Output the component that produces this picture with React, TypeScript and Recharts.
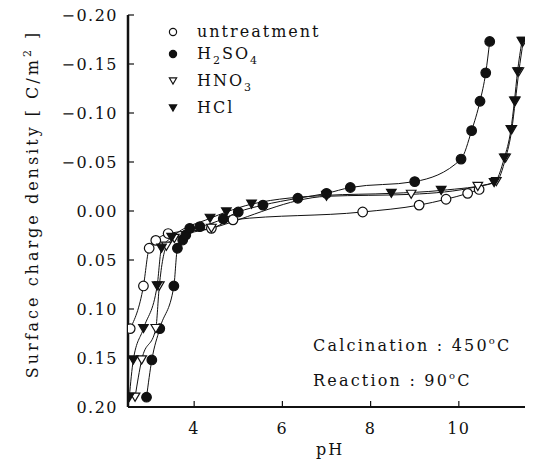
import React from "react";
import { LineChart, Line, XAxis, YAxis, Customized } from "recharts";

// pH vs surface charge density (C/m2)
const untreatment = [
    { x: 2.55, y: 0.12 },
    { x: 2.85, y: 0.0765 },
    { x: 2.98, y: 0.038 },
    { x: 3.13, y: 0.03 },
    { x: 3.41, y: 0.023 },
    { x: 4.39, y: 0.0177 },
    { x: 4.88, y: 0.009 },
    { x: 7.82, y: 0.001 },
    { x: 9.1, y: -0.006 },
    { x: 9.71, y: -0.012 },
    { x: 10.2, y: -0.018 },
    { x: 10.46, y: -0.022 },
];

const h2so4 = [
    { x: 2.92, y: 0.19 },
    { x: 3.04, y: 0.152 },
    { x: 3.22, y: 0.12 },
    { x: 3.54, y: 0.0765 },
    { x: 3.62, y: 0.038 },
    { x: 3.74, y: 0.0296 },
    { x: 3.81, y: 0.0245 },
    { x: 3.9, y: 0.0177 },
    { x: 4.13, y: 0.016 },
    { x: 4.66, y: 0.008 },
    { x: 5.0, y: 0.001 },
    { x: 5.56, y: -0.006 },
    { x: 6.35, y: -0.013 },
    { x: 7.0, y: -0.018 },
    { x: 7.54, y: -0.024 },
    { x: 9.0, y: -0.03 },
    { x: 10.05, y: -0.053 },
    { x: 10.29, y: -0.082 },
    { x: 10.48, y: -0.112 },
    { x: 10.61, y: -0.141 },
    { x: 10.7, y: -0.173 },
];

const hno3 = [
    { x: 2.66, y: 0.19 },
    { x: 2.81, y: 0.152 },
    { x: 3.13, y: 0.12 },
    { x: 3.21, y: 0.0765 },
    { x: 3.37, y: 0.036 },
    { x: 3.55, y: 0.028 },
    { x: 4.39, y: 0.0177 },
    { x: 7.0, y: -0.015 },
    { x: 8.92, y: -0.017 },
    { x: 10.43, y: -0.025 },
    { x: 10.85, y: -0.03 },
    { x: 11.06, y: -0.054 },
    { x: 11.2, y: -0.083 },
    { x: 11.28, y: -0.112 },
    { x: 11.36, y: -0.142 },
    { x: 11.46, y: -0.173 },
];

const hcl = [
    { x: 2.53, y: 0.19 },
    { x: 2.62, y: 0.152 },
    { x: 2.85, y: 0.12 },
    { x: 3.16, y: 0.0765 },
    { x: 3.26, y: 0.038 },
    { x: 3.49, y: 0.027 },
    { x: 4.36, y: 0.0075 },
    { x: 4.73, y: 0.001 },
    { x: 5.3, y: -0.007 },
    { x: 7.0, y: -0.016 },
    { x: 8.47, y: -0.018 },
    { x: 9.6, y: -0.021 },
    { x: 10.8, y: -0.029 },
    { x: 11.03, y: -0.054 },
    { x: 11.18, y: -0.083 },
    { x: 11.26, y: -0.112 },
    { x: 11.33, y: -0.142 },
    { x: 11.43, y: -0.173 },
];

const xTicks = [4, 6, 8, 10];
const yTicks = [-0.2, -0.15, -0.1, -0.05, 0, 0.05, 0.1, 0.15, 0.2];

const FONT = "'DejaVu Serif', serif";
const INK = "#111";

type Kind = "openCircle" | "circle" | "openTri" | "tri";

function Marker({ kind, cx, cy, r = 4.8 }: { kind: Kind; cx: number; cy: number; r?: number }) {
    if (kind === "openCircle" || kind === "circle") {
        return (
            <circle
                cx={cx}
                cy={cy}
                r={r}
                fill={kind === "circle" ? INK : "#fff"}
                stroke={INK}
                strokeWidth={1.2}
            />
        );
    }
    const h = r * 1.7;
    const pts = `${cx - r},${cy - h / 2} ${cx + r},${cy - h / 2} ${cx},${cy + h / 2}`;
    return <polygon points={pts} fill={kind === "tri" ? INK : "#fff"} stroke={INK} strokeWidth={1.2} />;
}

const dotFor = (kind: Kind) => (p: any) => (
    <Marker key={`${kind}-${p.index}`} kind={kind} cx={p.cx} cy={p.cy} />
);

const fmtY = (v: number) => (v < 0 ? "\u2212" + Math.abs(v).toFixed(2) : v.toFixed(2));

const textStyle = { fontFamily: FONT, fontSize: 16, letterSpacing: 2, fill: INK } as const;

function Overlay() {
    const rows: { kind: Kind; y: number; label: React.ReactNode }[] = [
        { kind: "openCircle", y: 32, label: "untreatment" },
        {
            kind: "circle",
            y: 54,
            label: (
                <>
                    H<tspan dy={5} fontSize={11}>2</tspan>
                    <tspan dy={-5}>SO</tspan>
                    <tspan dy={5} fontSize={11}>4</tspan>
                </>
            ),
        },
        {
            kind: "openTri",
            y: 81,
            label: (
                <>
                    HNO<tspan dy={5} fontSize={11}>3</tspan>
                </>
            ),
        },
        { kind: "tri", y: 108, label: "HCl" },
    ];
    return (
        <g>
            {rows.map((r, i) => (
                <g key={i}>
                    <Marker kind={r.kind} cx={173} cy={r.y} r={3.6} />
                    <text x={197} y={r.y + 5} {...textStyle}>
                        {r.label}
                    </text>
                </g>
            ))}
            <text x={313} y={351} {...textStyle} letterSpacing={2.2}>
                Calcination : 450<tspan dy={-7} fontSize={10}>o</tspan>
                <tspan dy={7}>C</tspan>
            </text>
            <text x={313} y={386} {...textStyle} letterSpacing={2.2}>
                Reaction : 90<tspan dy={-7} fontSize={10}>o</tspan>
                <tspan dy={7}>C</tspan>
            </text>
            <text x={330} y={455} textAnchor="middle" {...textStyle}>
                pH
            </text>
            <text
                x={0}
                y={0}
                transform="translate(38 204) rotate(-90)"
                textAnchor="middle"
                {...textStyle}
                letterSpacing={3}
            >
                Surface charge density [ C/m<tspan dy={-7} fontSize={11}>2</tspan>
                <tspan dy={7}> ]</tspan>
            </text>
        </g>
    );
}

const axisLine = { stroke: INK, strokeWidth: 2 };
const tickLine = { stroke: INK, strokeWidth: 1.2 };
const tickText = { fontFamily: FONT, fontSize: 16, letterSpacing: 1.5, fill: INK };

export default function App() {
    const lineProps = {
        type: "monotone" as const,
        dataKey: "y",
        stroke: INK,
        strokeWidth: 1,
        isAnimationActive: false,
        xAxisId: "bottom",
        yAxisId: "left",
    };
    return (
        <div style={{ position: "absolute", left: 0, top: 0, background: "#fff" }}>
            <LineChart width={535} height={470} margin={{ top: 15, right: 10, bottom: 0, left: 0 }}>
                <XAxis
                    xAxisId="bottom"
                    dataKey="x"
                    type="number"
                    domain={[2.5, 11.5]}
                    ticks={xTicks}
                    allowDataOverflow
                    height={63}
                    axisLine={axisLine}
                    tickLine={tickLine}
                    tickSize={-6}
                    tickMargin={22}
                    tick={tickText}
                />
                <XAxis
                    xAxisId="top"
                    orientation="top"
                    dataKey="x"
                    type="number"
                    domain={[2.5, 11.5]}
                    ticks={xTicks}
                    allowDataOverflow
                    height={0}
                    axisLine={axisLine}
                    tickLine={tickLine}
                    tickSize={-6}
                    tickFormatter={() => ""}
                />
                <YAxis
                    yAxisId="left"
                    type="number"
                    domain={[-0.2, 0.2]}
                    reversed
                    ticks={yTicks}
                    allowDataOverflow
                    width={128}
                    axisLine={{ stroke: INK, strokeWidth: 2.5 }}
                    tickLine={tickLine}
                    tickSize={-6}
                    tickMargin={16}
                    tickFormatter={fmtY}
                    tick={tickText}
                />
                <YAxis
                    yAxisId="right"
                    orientation="right"
                    type="number"
                    domain={[-0.2, 0.2]}
                    reversed
                    ticks={yTicks}
                    allowDataOverflow
                    width={0}
                    axisLine={axisLine}
                    tickLine={tickLine}
                    tickSize={-6}
                    tickFormatter={() => ""}
                />
                <Line {...lineProps} data={untreatment} dot={dotFor("openCircle")} name="untreatment" />
                <Line {...lineProps} data={h2so4} dot={dotFor("circle")} name="H2SO4" />
                <Line {...lineProps} data={hno3} dot={dotFor("openTri")} name="HNO3" />
                <Line {...lineProps} data={hcl} dot={dotFor("tri")} name="HCl" />
                <Customized component={Overlay} />
            </LineChart>
        </div>
    );
}
